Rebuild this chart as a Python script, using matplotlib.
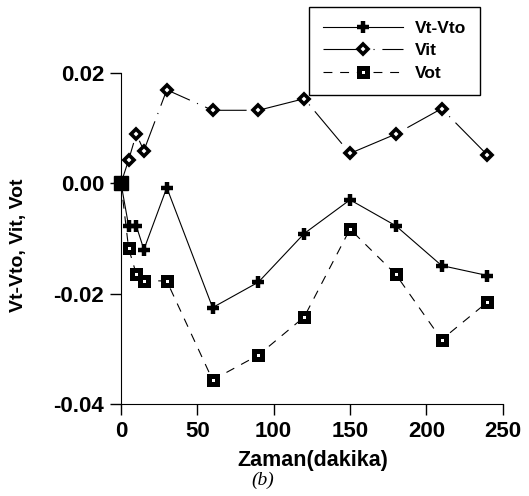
import matplotlib
matplotlib.use('Agg')
import matplotlib.pyplot as plt

# time (minutes)
zaman = [0, 5, 10, 15, 30, 60, 90, 120, 150, 180, 210, 240]

vt_vto = [0.0, -0.0077, -0.0077, -0.0120, -0.0008, -0.0225, -0.0179,
          -0.0091, -0.0030, -0.0077, -0.0149, -0.0167]
vit = [0.0, 0.0042, 0.0089, 0.0059, 0.0169, 0.0132, 0.0132,
       0.0153, 0.0054, 0.0089, 0.0135, 0.0051]
vot = [0.0, -0.0118, -0.0164, -0.0176, -0.0177, -0.0356, -0.0311,
       -0.0242, -0.0083, -0.0165, -0.0283, -0.0215]

xticks = [0, 50, 100, 150, 200, 250]
yticks = [0.02, 0.00, -0.02, -0.04]
ytick_labels = ['0.02', '0.00', '-0.02', '-0.04']

plt.rcParams['font.family'] = ['Liberation Sans', 'DejaVu Sans']
plt.rcParams['font.weight'] = 'bold'

fig = plt.figure(figsize=(5.29, 4.96), dpi=100)
ax = fig.add_axes((0.2287, 0.1849, 0.7216, 0.6685))
ax.spines[['top', 'right']].set_visible(False)

ax.plot(zaman, vt_vto, color='black', lw=0.8, marker='+', ms=9, mew=3.2,
        clip_on=False, zorder=3, label='Vt-Vto')
ax.plot(zaman, vit, color='black', lw=0.8, ls=(0, (38, 7, 1, 7)), marker='D',
        ms=5, mew=2.6, mfc='white', mec='black', clip_on=False, zorder=3,
        label='Vit')
ax.plot(zaman, vot, color='black', lw=0.8, ls=(0, (8, 7)), marker='s',
        ms=6, mew=3.6, mfc='white', mec='black', clip_on=False, zorder=3,
        label='Vot')
# filled start point where all three series meet
ax.plot(zaman[0], vot[0], marker='s', ms=10, color='black', clip_on=False,
        zorder=4)

ax.set_xlim(0, 250)
ax.set_ylim(-0.04, 0.02)
ax.set_xticks(xticks)
ax.set_yticks(yticks)
ax.set_yticklabels(ytick_labels)
ax.tick_params(direction='out', length=8, width=1, labelsize=16, pad=4)
for lab in ax.get_xticklabels() + ax.get_yticklabels():
    lab.set_fontweight('bold')

ax.set_xlabel('Zaman(dakika)', fontsize=15.5, fontweight='bold')
ax.set_ylabel('Vt-Vto, Vit, Vot', fontsize=14, fontweight='bold')
ax.xaxis.set_label_coords(0.502, -0.138)
ax.yaxis.set_label_coords(-0.246, 0.48)

fig.text(0.497, 0.022, '(b)', ha='center', fontsize=14, style='italic',
         fontweight='normal', family='Liberation Serif')

leg = ax.legend(loc='upper left', bbox_to_anchor=(0.584, 0.986),
                bbox_transform=fig.transFigure, frameon=True, fancybox=False,
                edgecolor='black', framealpha=1, fontsize=12.5,
                handlelength=4.6, handletextpad=0.7, borderpad=0.8,
                labelspacing=0.42, borderaxespad=0)
leg.get_frame().set_linewidth(1)
for t in leg.get_texts():
    t.set_fontweight('bold')

fig.savefig('out.png', dpi=100)
